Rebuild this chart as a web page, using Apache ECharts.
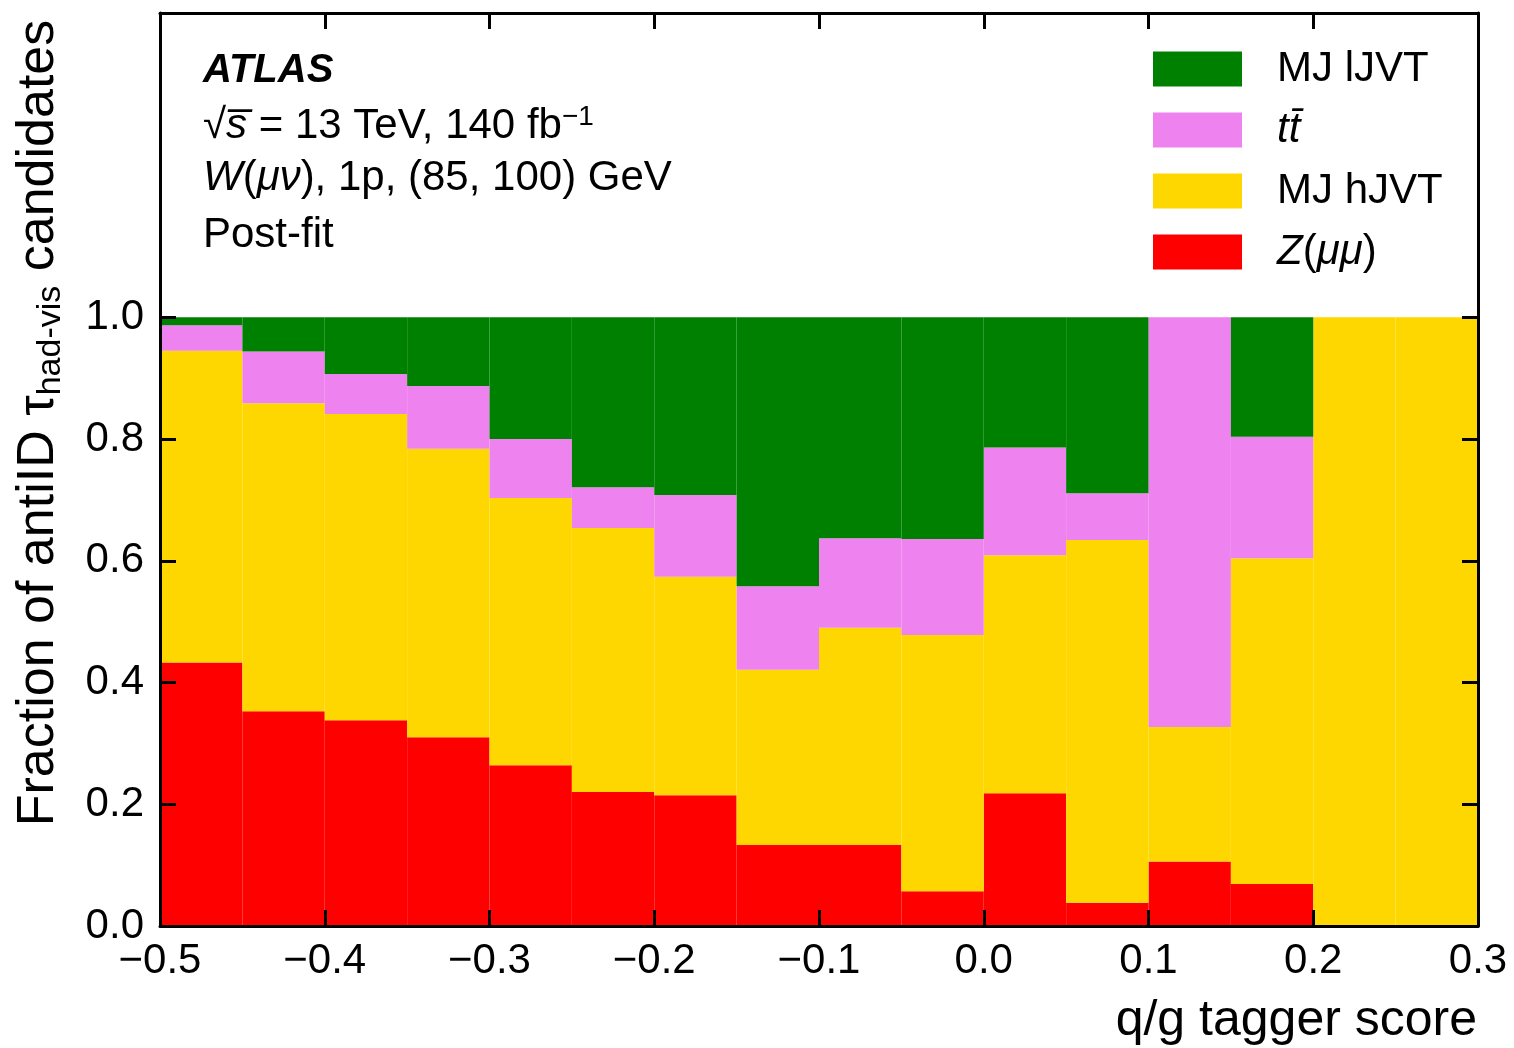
<!DOCTYPE html>
<html>
<head>
<meta charset="utf-8">
<title>Fraction of antiID tau candidates</title>
<script src="https://cdn.jsdelivr.net/npm/echarts@6/dist/echarts.min.js"></script>
<style>
  html, body { margin: 0; padding: 0; background: #fff; }
  #chart { width: 1514px; height: 1048px; }
</style>
</head>
<body>
<div id="chart"></div>
<script>
// q/g tagger score bins (low edge, width 0.05)
var binEdges = ['-0.50', '-0.45', '-0.40', '-0.35', '-0.30', '-0.25', '-0.20', '-0.15',
  '-0.10', '-0.05', '0.00', '0.05', '0.10', '0.15', '0.20', '0.25']
var xTicks = [-0.5, -0.4, -0.3, -0.2, -0.1, 0.0, 0.1, 0.2, 0.3]
var yTicks = [0.0, 0.2, 0.4, 0.6, 0.8, 1.0]

// post-fit fractions per bin, stacked bottom -> top
var zMuMu = [0.433, 0.353, 0.338, 0.310, 0.264, 0.220, 0.215, 0.133,
  0.133, 0.057, 0.218, 0.038, 0.106, 0.069, 0.0, 0.0]
var mjHJVT = [0.512, 0.506, 0.503, 0.474, 0.439, 0.434, 0.359, 0.288,
  0.357, 0.421, 0.391, 0.596, 0.221, 0.535, 1.0, 1.0]
var ttbar = [0.042, 0.085, 0.066, 0.103, 0.097, 0.067, 0.134, 0.137,
  0.147, 0.158, 0.177, 0.077, 0.673, 0.200, 0.0, 0.0]
var mjLJVT = [0.013, 0.056, 0.093, 0.113, 0.200, 0.279, 0.292, 0.442,
  0.363, 0.364, 0.214, 0.289, 0.0, 0.196, 0.0, 0.0]

var FONT = 'Liberation Sans, Arial, Helvetica, sans-serif'

function fmtTick(v) {
  if (Math.abs(v) < 1e-9) return '0.0'
  return v.toFixed(1).replace('-', '\u2212')
}

function histSeries(name, color, data) {
  return {
    name: name,
    type: 'bar',
    stack: 'frac',
    xAxisIndex: 0,
    yAxisIndex: 0,
    barCategoryGap: '0%',
    barWidth: '100%',
    itemStyle: { color: color },
    emphasis: { disabled: true },
    data: data
  }
}

var tickStyle = { color: '#000', width: 3 }

var chart = echarts.init(document.getElementById('chart'))
chart.setOption({
  backgroundColor: '#fff',
  animation: false,
  textStyle: { fontFamily: FONT },
  grid: { left: 160, right: 36, top: 13, bottom: 122 },
  legend: {
    orient: 'vertical',
    left: 1153,
    top: 48,
    padding: 0,
    itemWidth: 89,
    itemHeight: 35,
    itemGap: 19,
    icon: 'rect',
    selectedMode: false,
    data: ['MJ lJVT', 't t\u0304', 'MJ hJVT', 'Z(\u03bc\u03bc)'],
    formatter: function (name) {
      if (name === 't t\u0304') return '{pi|tt\u0304}'
      if (name === 'Z(\u03bc\u03bc)') return '{pi|Z}{n|(}{i|\u03bc\u03bc}{n|)}'
      return '{p|' + name + '}'
    },
    textStyle: {
      fontFamily: FONT,
      fontSize: 42,
      color: '#000',
      rich: {
        p: { fontFamily: FONT, fontSize: 42, lineHeight: 35, color: '#000', padding: [0, 0, 0, 30] },
        pi: { fontFamily: FONT, fontSize: 42, lineHeight: 35, color: '#000', fontStyle: 'italic', padding: [0, 0, 0, 30] },
        i: { fontFamily: FONT, fontSize: 42, lineHeight: 35, color: '#000', fontStyle: 'italic' },
        n: { fontFamily: FONT, fontSize: 42, lineHeight: 35, color: '#000' }
      }
    }
  },
  xAxis: [{
    type: 'category',
    data: binEdges,
    position: 'bottom',
    show: false
  }, {
    type: 'value',
    min: -0.5,
    max: 0.3,
    position: 'bottom',
    z: 10,
    axisLine: { onZero: false, lineStyle: tickStyle },
    axisTick: { inside: true, length: 16, lineStyle: tickStyle, customValues: xTicks },
    axisLabel: {
      customValues: xTicks,
      fontFamily: FONT,
      fontSize: 42,
      color: '#000',
      margin: 14,
      formatter: fmtTick
    },
    splitLine: { show: false }
  }, {
    type: 'value',
    min: -0.5,
    max: 0.3,
    position: 'top',
    z: 10,
    axisLine: { onZero: false, lineStyle: tickStyle },
    axisTick: { inside: true, length: 16, lineStyle: tickStyle, customValues: xTicks },
    axisLabel: { show: false },
    splitLine: { show: false }
  }],
  yAxis: [{
    type: 'value',
    min: 0,
    max: 1.5,
    position: 'left',
    z: 10,
    axisLine: { show: true, onZero: false, lineStyle: tickStyle },
    axisTick: { show: true, inside: true, length: 16, lineStyle: tickStyle, customValues: yTicks },
    axisLabel: {
      customValues: yTicks,
      fontFamily: FONT,
      fontSize: 42,
      color: '#000',
      margin: 16,
      formatter: fmtTick
    },
    splitLine: { show: false }
  }, {
    type: 'value',
    min: 0,
    max: 1.5,
    position: 'right',
    z: 10,
    axisLine: { show: true, onZero: false, lineStyle: tickStyle },
    axisTick: { show: true, inside: true, length: 16, lineStyle: tickStyle, customValues: yTicks },
    axisLabel: { show: false },
    splitLine: { show: false }
  }],
  graphic: [{
    type: 'text',
    x: 203,
    y: 71,
    style: {
      text: 'ATLAS',
      fontFamily: FONT,
      fontSize: 40,
      fontWeight: 'bold',
      fontStyle: 'italic',
      fill: '#000',
      align: 'left',
      verticalAlign: 'middle'
    }
  }, {
    type: 'text',
    x: 203,
    y: 126,
    style: {
      text: '{n|\u221a}{i|s\u0305}{n| = 13 TeV, 140 fb}{sup|\u22121}',
      fill: '#000',
      align: 'left',
      verticalAlign: 'middle',
      rich: {
        n: { fontFamily: FONT, fontSize: 42, lineHeight: 46, fill: '#000' },
        i: { fontFamily: FONT, fontSize: 42, lineHeight: 46, fontStyle: 'italic', fill: '#000' },
        sup: { fontFamily: FONT, fontSize: 28, fill: '#000', verticalAlign: 'top' }
      }
    }
  }, {
    type: 'text',
    x: 203,
    y: 178,
    style: {
      text: '{i|W}{n|(}{i|\u03bc\u03bd}{n|), 1p, (85, 100) GeV}',
      fill: '#000',
      align: 'left',
      verticalAlign: 'middle',
      rich: {
        n: { fontFamily: FONT, fontSize: 42, fill: '#000' },
        i: { fontFamily: FONT, fontSize: 42, fontStyle: 'italic', fill: '#000' }
      }
    }
  }, {
    type: 'text',
    x: 203,
    y: 235,
    style: {
      text: 'Post-fit',
      fontFamily: FONT,
      fontSize: 42,
      fill: '#000',
      align: 'left',
      verticalAlign: 'middle'
    }
  }, {
    type: 'text',
    x: 1477,
    y: 1021,
    style: {
      text: 'q/g tagger score',
      fontFamily: FONT,
      fontSize: 50,
      fill: '#000',
      align: 'right',
      verticalAlign: 'middle'
    }
  }, {
    type: 'text',
    x: 39,
    y: 423,
    rotation: Math.PI / 2,
    style: {
      text: '{n|Fraction of antiID \u03c4}{s|had-vis}{n| candidates}',
      fill: '#000',
      align: 'center',
      verticalAlign: 'middle',
      rich: {
        n: { fontFamily: FONT, fontSize: 52, lineHeight: 58, fill: '#000' },
        s: { fontFamily: FONT, fontSize: 34, fill: '#000', verticalAlign: 'bottom' }
      }
    }
  }],
  series: [
    histSeries('Z(\u03bc\u03bc)', '#ff0000', zMuMu),
    histSeries('MJ hJVT', '#ffd700', mjHJVT),
    histSeries('t t\u0304', '#ee82ee', ttbar),
    histSeries('MJ lJVT', '#008000', mjLJVT)
  ]
})
</script>
</body>
</html>
